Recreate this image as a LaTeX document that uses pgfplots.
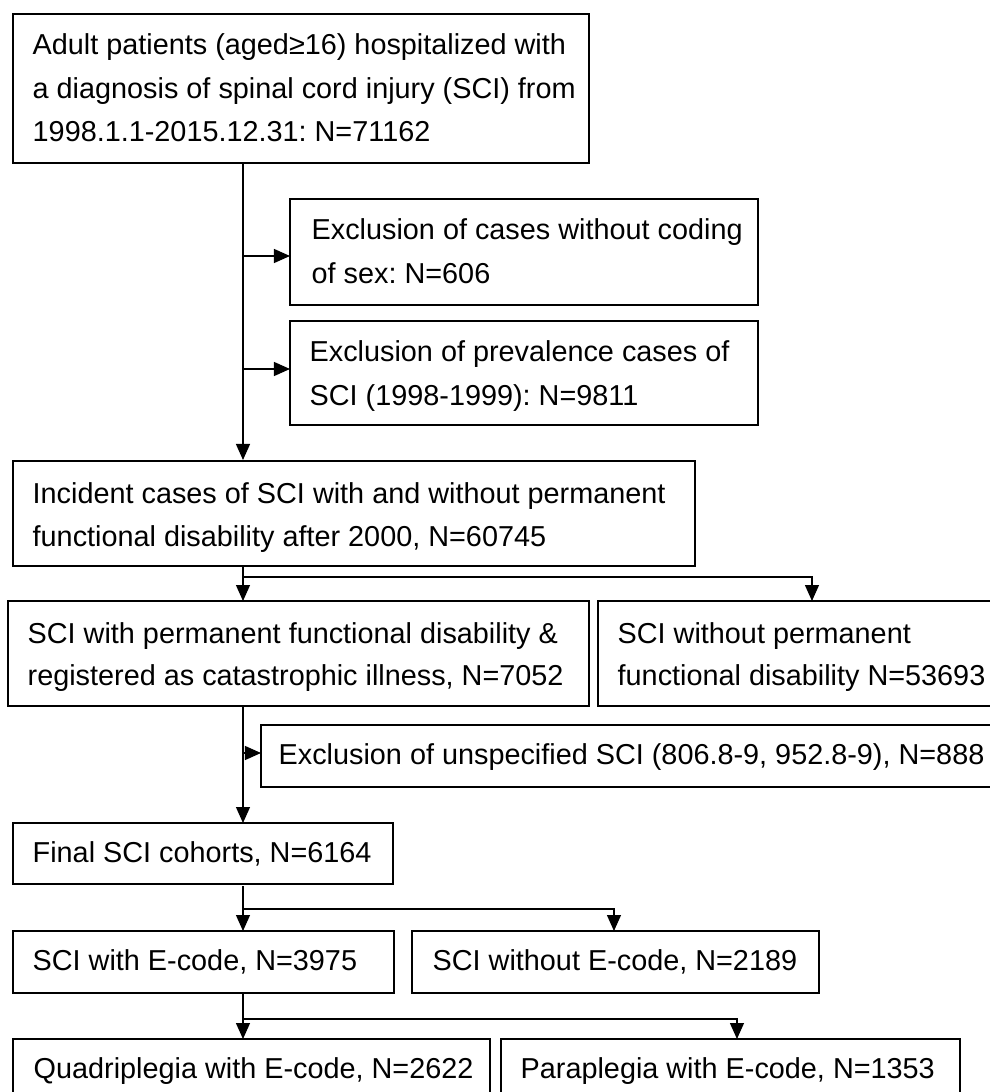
\documentclass[border=0pt]{standalone}
\usepackage{pgfplots}
\pgfplotsset{compat=1.18}
\usepackage{fontspec}
\setmainfont{Liberation Sans}
\usetikzlibrary{arrows.meta}
\begin{document}
\frenchspacing
\fontsize{8.2}{12}\selectfont
\begin{tikzpicture}[
  bx/.style={draw=black, line width=0.55pt},
  cn/.style={draw=black, line width=0.35pt},
  ar/.style={cn, -{Triangle[length=1.6mm,width=1.4mm]}},
  tx/.style={anchor=base west, inner sep=0pt, font=\fontsize{8.2}{12}\selectfont}
]
\begin{axis}[
  width=9.9cm, height=10.92cm, scale only axis,
  xmin=0, xmax=990, ymin=0, ymax=1092, y dir=reverse,
  hide axis, clip=true
]
\path (axis cs:0,0) rectangle (axis cs:990,1092);
% boxes
\draw[bx] (axis cs:13,14) rectangle (axis cs:589,163);
\draw[bx] (axis cs:290,199) rectangle (axis cs:758,305);
\draw[bx] (axis cs:290,321) rectangle (axis cs:758,425);
\draw[bx] (axis cs:13,461) rectangle (axis cs:695,566);
\draw[bx] (axis cs:8,601) rectangle (axis cs:589,706);
\draw[bx] (axis cs:598,601) rectangle (axis cs:1000,706);
\draw[bx] (axis cs:261,725) rectangle (axis cs:1000,787);
\draw[bx] (axis cs:13,823) rectangle (axis cs:393,884);
\draw[bx] (axis cs:13,931) rectangle (axis cs:394,993);
\draw[bx] (axis cs:412,931) rectangle (axis cs:819,993);
\draw[bx] (axis cs:13,1039) rectangle (axis cs:490,1101);
\draw[bx] (axis cs:501,1039) rectangle (axis cs:960,1101);
% connectors
\draw[ar] (axis cs:243,163) -- (axis cs:243,460);
\draw[ar] (axis cs:243,256) -- (axis cs:290,256);
\draw[ar] (axis cs:243,369) -- (axis cs:290,369);
\draw[ar] (axis cs:243,566) -- (axis cs:243,601);
\draw[ar] (axis cs:243,577) -- (axis cs:812,577) -- (axis cs:812,601);
\draw[ar] (axis cs:243,706) -- (axis cs:243,823);
\draw[ar] (axis cs:243,753) -- (axis cs:261,753);
\draw[ar] (axis cs:243,886) -- (axis cs:243,931);
\draw[ar] (axis cs:243,909) -- (axis cs:614,909) -- (axis cs:614,931);
\draw[ar] (axis cs:243,993) -- (axis cs:243,1039);
\draw[ar] (axis cs:243,1019) -- (axis cs:737,1019) -- (axis cs:737,1039);
% texts
\node[tx] at (axis cs:32,55) {Adult patients (aged≥16) hospitalized with};
\node[tx] at (axis cs:32,99) {a diagnosis of spinal cord injury (SCI) from};
\node[tx] at (axis cs:32,142) {1998.1.1-2015.12.31: N=71162};
\node[tx] at (axis cs:311,240) {Exclusion of cases without coding};
\node[tx] at (axis cs:311,284) {of sex: N=606};
\node[tx] at (axis cs:309,362) {Exclusion of prevalence cases of};
\node[tx] at (axis cs:309,405) {SCI (1998-1999): N=9811};
\node[tx] at (axis cs:32,503) {Incident cases of SCI with and without permanent};
\node[tx] at (axis cs:32,546) {functional disability after 2000, N=60745};
\node[tx] at (axis cs:27,643) {SCI with permanent functional disability \&};
\node[tx] at (axis cs:27,685) {registered as catastrophic illness, N=7052};
\node[tx] at (axis cs:617,643) {SCI without permanent};
\node[tx] at (axis cs:617,685) {functional disability N=53693};
\node[tx] at (axis cs:278,764) {Exclusion of unspecified SCI (806.8-9, 952.8-9), N=888};
\node[tx] at (axis cs:32,862) {Final SCI cohorts, N=6164};
\node[tx] at (axis cs:32,970) {SCI with E-code, N=3975};
\node[tx] at (axis cs:432,970) {SCI without E-code, N=2189};
\node[tx] at (axis cs:33,1078) {Quadriplegia with E-code, N=2622};
\node[tx] at (axis cs:520,1078) {Paraplegia with E-code, N=1353};
\end{axis}
\end{tikzpicture}
\end{document}
